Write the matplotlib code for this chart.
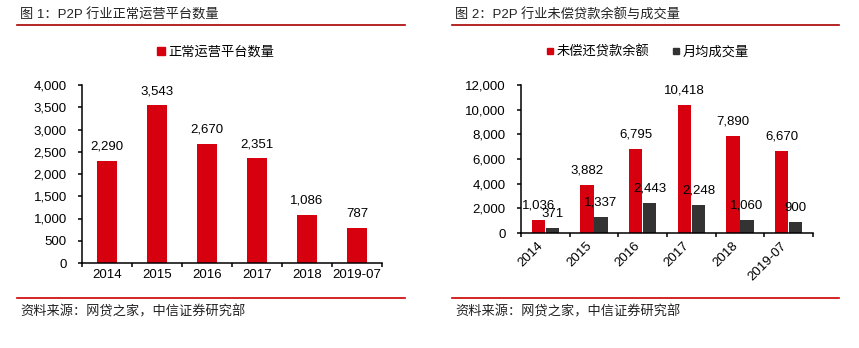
import matplotlib
matplotlib.use("Agg")
import matplotlib.pyplot as plt
from matplotlib.lines import Line2D
import numpy as np

plt.rcParams['font.family'] = ['Liberation Sans', 'Noto Sans CJK SC', 'DejaVu Sans']

# ---- data ----
years = ["2014", "2015", "2016", "2017", "2018", "2019-07"]
platforms = [2290, 3543, 2670, 2351, 1086, 787]
balance = [1036, 3882, 6795, 10418, 7890, 6670]
monthly_volume = [371, 1337, 2443, 2248, 1060, 900]

title1 = "图 1：P2P 行业正常运营平台数量"
title2 = "图 2：P2P 行业未偿贷款余额与成交量"
legend1 = "正常运营平台数量"
legend2a = "未偿还贷款余额"
legend2b = "月均成交量"
source = "资料来源：网贷之家，中信证券研究部"

RED = "#D7000F"
DARK = "#333333"
LINE_TOP = "#A80000"
LINE_BOT = "#CC0000"

W, H = 859, 348
fig = plt.figure(figsize=(W / 100, H / 100), dpi=100)

def fx(px):
    return px / W

def fy(py):
    return (H - py) / H

FS = 9.5

def style_axes(ax):
    for s in ["top", "right"]:
        ax.spines[s].set_visible(False)
    for s in ["left", "bottom"]:
        ax.spines[s].set_linewidth(1.1)
        ax.spines[s].set_color("black")
    ax.tick_params(axis="y", direction="out", length=3, width=1.1, pad=8, labelsize=FS)
    ax.tick_params(axis="x", which="major", length=0, labelsize=FS)
    ax.tick_params(axis="x", which="minor", direction="out", length=3, width=1.1)

# ---- left chart ----
ax1 = fig.add_axes([fx(82), fy(263), fx(382) - fx(82), fy(85) - fy(263)])
x = np.arange(len(years))
ax1.bar(x, platforms, width=0.4, color=RED, zorder=2)
ax1.set_xlim(-0.5, len(years) - 0.5)
ax1.set_ylim(0, 4000)
ax1.set_yticks(np.arange(0, 4001, 500))
ax1.set_yticklabels([f"{v:,}" for v in range(0, 4001, 500)])
ax1.set_xticks(x)
ax1.set_xticklabels(years)
ax1.set_xticks(np.arange(-0.5, len(years), 1), minor=True)
style_axes(ax1)
ax1.tick_params(axis="x", which="major", pad=4)
for xi, v in zip(x, platforms):
    ax1.annotate(f"{v:,}", (xi, v), xytext=(0, 6), textcoords="offset points",
                 ha="center", va="bottom", fontsize=FS)

# ---- right chart ----
ax2 = fig.add_axes([fx(521), fy(233), fx(813) - fx(521), fy(85) - fy(233)])
bw = 0.27
ax2.bar(x - bw / 2 - 0.01, balance, width=bw, color=RED, zorder=2)
ax2.bar(x + bw / 2 + 0.01, monthly_volume, width=bw, color=DARK, zorder=2)
ax2.set_xlim(-0.5, len(years) - 0.5)
ax2.set_ylim(0, 12000)
ax2.set_yticks(np.arange(0, 12001, 2000))
ax2.set_yticklabels([f"{v:,}" for v in range(0, 12001, 2000)])
ax2.set_xticks(x)
ax2.set_xticklabels(years, rotation=45, ha="right")
ax2.set_xticks(np.arange(-0.5, len(years), 1), minor=True)
style_axes(ax2)
ax2.tick_params(axis="x", which="major", pad=5)
for xi, v in zip(x, balance):
    ax2.annotate(f"{v:,}", (xi - bw / 2 - 0.01, v), xytext=(0, 6), textcoords="offset points",
                 ha="center", va="bottom", fontsize=FS)
for xi, v in zip(x, monthly_volume):
    ax2.annotate(f"{v:,}", (xi + bw / 2 + 0.01, v), xytext=(0, 6), textcoords="offset points",
                 ha="center", va="bottom", fontsize=FS)

# ---- legends ----
h1 = [Line2D([], [], marker="s", ls="", color=RED, markersize=5.5)]
fig.legend(h1, [legend1], loc="center", bbox_to_anchor=(fx(215), fy(52)),
           frameon=False, fontsize=FS, handletextpad=0.1, handlelength=0.8,
           borderpad=0, borderaxespad=0)
h2 = [Line2D([], [], marker="s", ls="", color=RED, markersize=4.5),
      Line2D([], [], marker="s", ls="", color=DARK, markersize=4.5)]
fig.legend(h2, [legend2a, legend2b], loc="center", bbox_to_anchor=(fx(647), fy(52)),
           frameon=False, fontsize=FS, ncol=2, handletextpad=0.1, handlelength=0.8,
           columnspacing=1.6, borderpad=0, borderaxespad=0)

# ---- titles, rules, source ----
fig.text(fx(20), fy(15), title1, fontsize=FS, va="center", ha="left", color="#222222")
fig.text(fx(455), fy(15), title2, fontsize=FS, va="center", ha="left", color="#222222")
fig.add_artist(Line2D([fx(17), fx(405)], [fy(25), fy(25)], color=LINE_TOP, lw=1.2))
fig.add_artist(Line2D([fx(452), fx(839)], [fy(25), fy(25)], color=LINE_TOP, lw=1.2))
fig.add_artist(Line2D([fx(17), fx(405)], [fy(298), fy(298)], color=LINE_BOT, lw=1.2))
fig.add_artist(Line2D([fx(452), fx(839)], [fy(298), fy(298)], color=LINE_BOT, lw=1.2))
fig.text(fx(20), fy(312), source, fontsize=FS, va="center", ha="left", color="#222222")
fig.text(fx(455), fy(312), source, fontsize=FS, va="center", ha="left", color="#222222")

fig.savefig("out.png", dpi=100)
